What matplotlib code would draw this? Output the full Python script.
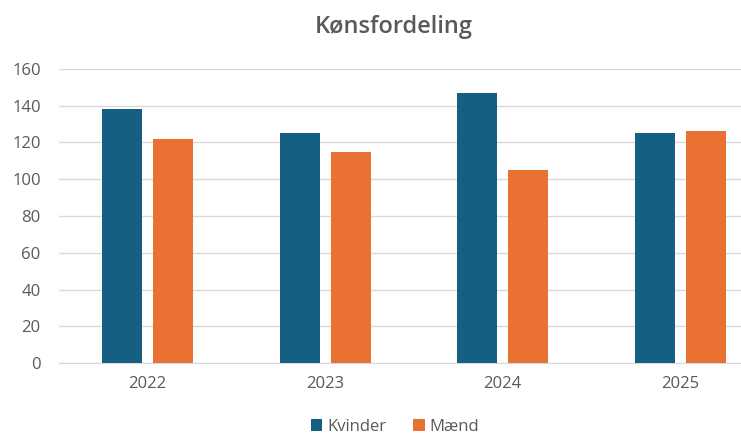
import numpy as np
import matplotlib.pyplot as plt

plt.rcParams['font.family'] = ['Open Sans', 'DejaVu Sans']

years = ["2022", "2023", "2024", "2025"]
kvinder = [138, 125, 147, 125]
maend = [122, 115, 105, 126]

fig = plt.figure(figsize=(7.41, 4.38), dpi=100)
ax = fig.add_axes([0.0793, 0.1712, 0.9585, 0.6713])

x = np.arange(len(years))
w = 0.225
off = 0.144
ax.bar(x - off, kvinder, w, color="#156082", label="Kvinder", zorder=3)
ax.bar(x + off, maend, w, color="#E97132", label="Mænd", zorder=3)

ax.set_xlim(-0.5, 3.5)
ax.set_ylim(0, 160)
ax.set_yticks(range(0, 161, 20))
ax.set_xticks(x)
ax.set_xticklabels(years)
ax.grid(axis="y", color="#D9D9D9", linewidth=1, zorder=0)
for s in ["top", "right", "left"]:
    ax.spines[s].set_visible(False)
ax.spines["bottom"].set_color("#D9D9D9")
ax.tick_params(length=0, colors="#595959", labelsize=12)
ax.tick_params(axis="x", pad=9)
ax.tick_params(axis="y", pad=13)

fig.text(394/741, 1 - 27/438, "Kønsfordeling", ha="center", va="center",
         fontsize=17, color="#595959", fontweight="semibold")
fig.legend(loc="center", bbox_to_anchor=(395/741, 1 - 427/438), ncol=2,
           frameon=False, fontsize=12, labelcolor="#595959",
           handlelength=0.7, handleheight=0.7, handletextpad=0.3, columnspacing=1.6)

fig.savefig("out.png", dpi=100)
